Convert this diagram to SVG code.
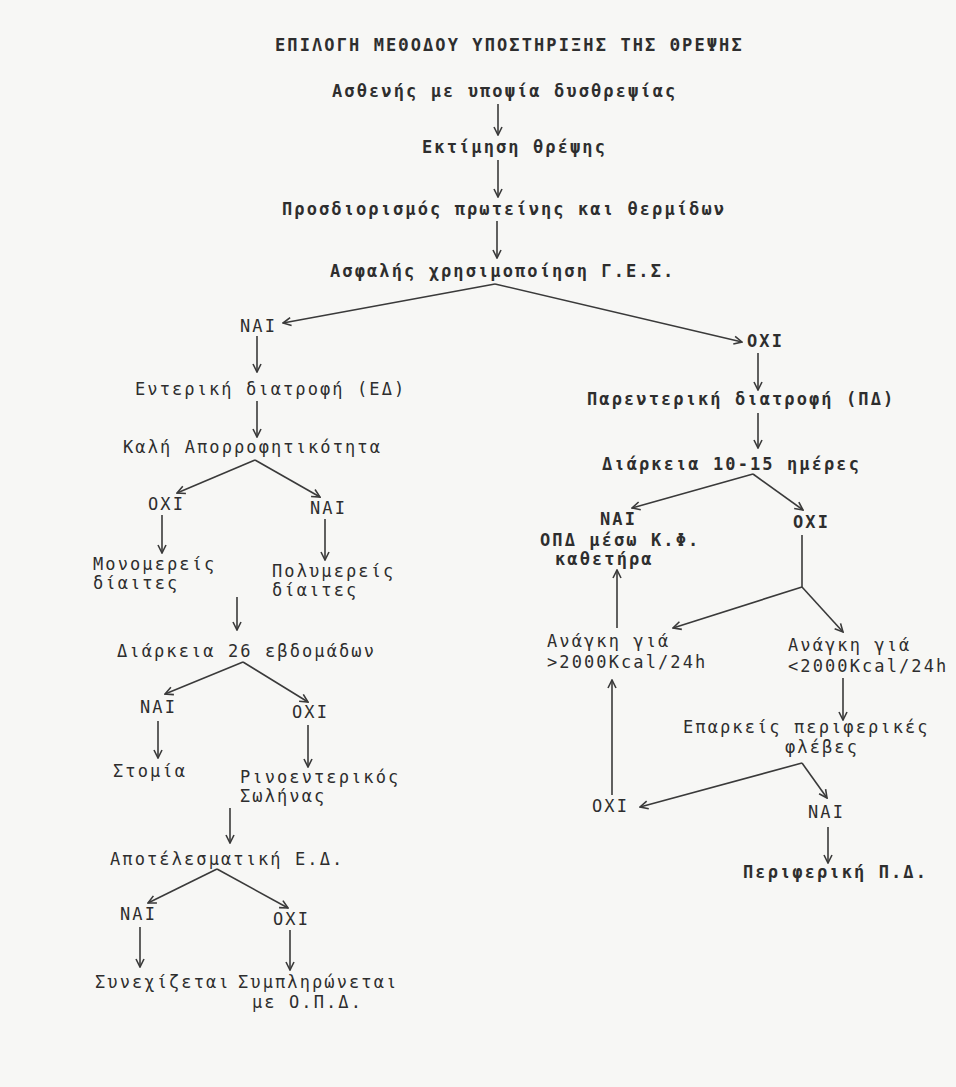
<svg xmlns="http://www.w3.org/2000/svg" width="956" height="1087" viewBox="0 0 956 1087">
<defs>
<style>
.t{font-family:"DejaVu Sans Mono","Liberation Mono",monospace;font-size:17px;letter-spacing:2.1px;fill:#2e2e2e}
.b{font-weight:bold}
.c{stroke:#3a3a3a;stroke-width:1.6;fill:none}
</style>
<marker id="ah" viewBox="0 0 10 10" refX="9" refY="5" markerWidth="10" markerHeight="10" markerUnits="userSpaceOnUse" orient="auto">
<path d="M1,1 L9,5 L1,9" fill="none" stroke="#3a3a3a" stroke-width="1.6"/>
</marker>
</defs>
<rect width="956" height="1087" fill="#f7f7f5"/>

<g id="title"><text class="t b" x="275" y="51">ΕΠΙΛΟΓΗ ΜΕΘΟΔΟΥ ΥΠΟΣΤΗΡΙΞΗΣ ΤΗΣ ΘΡΕΨΗΣ</text></g>
<g id="n-patient"><text class="t b" x="332" y="97">Ασθενής με υποψία δυσθρεψίας</text></g>
<g id="n-assess"><text class="t b" x="422" y="153">Εκτίμηση θρέψης</text></g>
<g id="n-protein"><text class="t b" x="282" y="215">Προσδιορισμός πρωτείνης και θερμίδων</text></g>
<g id="n-ges"><text class="t b" x="330" y="277">Ασφαλής χρησιμοποίηση Γ.Ε.Σ.</text></g>

<g id="n-yes1"><text class="t" x="240" y="332">ΝΑΙ</text></g>
<g id="n-ed"><text class="t" x="135" y="395">Εντερική διατροφή (ΕΔ)</text></g>
<g id="n-absorb"><text class="t" x="123" y="453">Καλή Απορροφητικότητα</text></g>
<g id="n-no2"><text class="t" x="148" y="510">ΟΧΙ</text></g>
<g id="n-yes2"><text class="t" x="310" y="514">ΝΑΙ</text></g>
<g id="n-mono"><text class="t" x="93" y="570">Μονομερείς</text><text class="t" x="93" y="589">δίαιτες</text></g>
<g id="n-poly"><text class="t" x="272" y="577">Πολυμερείς</text><text class="t" x="272" y="596">δίαιτες</text></g>
<g id="n-dur26"><text class="t" x="117" y="657">Διάρκεια 26 εβδομάδων</text></g>
<g id="n-yes3"><text class="t" x="140" y="713">ΝΑΙ</text></g>
<g id="n-no3"><text class="t" x="292" y="718">ΟΧΙ</text></g>
<g id="n-stoma"><text class="t" x="113" y="777">Στομία</text></g>
<g id="n-tube"><text class="t" x="240" y="783">Ρινοεντερικός</text><text class="t" x="240" y="802">Σωλήνας</text></g>
<g id="n-effective"><text class="t" x="110" y="865">Αποτέλεσματική Ε.Δ.</text></g>
<g id="n-yes4"><text class="t" x="120" y="920">ΝΑΙ</text></g>
<g id="n-no4"><text class="t" x="273" y="925">ΟΧΙ</text></g>
<g id="n-continue"><text class="t" x="95" y="988">Συνεχίζεται</text></g>
<g id="n-supplement"><text class="t" x="238" y="988">Συμπληρώνεται</text><text class="t" x="252" y="1008">με Ο.Π.Δ.</text></g>

<g id="n-no1"><text class="t b" x="747" y="347">ΟΧΙ</text></g>
<g id="n-pd"><text class="t b" x="587" y="405">Παρεντερική διατροφή (ΠΔ)</text></g>
<g id="n-dur1015"><text class="t b" x="602" y="470">Διάρκεια 10-15 ημέρες</text></g>
<g id="n-opd"><text class="t b" x="600" y="525">ΝΑΙ</text><text class="t b" x="540" y="546">ΟΠΔ μέσω Κ.Φ.</text><text class="t b" x="555" y="565">καθετήρα</text></g>
<g id="n-no5"><text class="t b" x="793" y="528">ΟΧΙ</text></g>
<g id="n-need-gt"><text class="t" x="547" y="647">Ανάγκη γιά</text><text class="t" x="547" y="668">&gt;2000Kcal/24h</text></g>
<g id="n-need-lt"><text class="t" x="788" y="651">Ανάγκη γιά</text><text class="t" x="788" y="672">&lt;2000Kcal/24h</text></g>
<g id="n-veins"><text class="t" x="683" y="733">Επαρκείς περιφερικές</text><text class="t" x="785" y="753">φλέβες</text></g>
<g id="n-no6"><text class="t" x="592" y="812">ΟΧΙ</text></g>
<g id="n-yes6"><text class="t" x="808" y="818">ΝΑΙ</text></g>
<g id="n-peripheral"><text class="t b" x="743" y="878">Περιφερική Π.Δ.</text></g>

<g id="connectors" class="c" marker-end="url(#ah)">
<line x1="498" y1="104" x2="498" y2="135"/>
<line x1="498" y1="160" x2="498" y2="197"/>
<line x1="497" y1="221" x2="497" y2="258"/>
<line x1="495" y1="284" x2="283" y2="323"/>
<line x1="495" y1="284" x2="742" y2="342"/>
<line x1="257" y1="336" x2="257" y2="372"/>
<line x1="257" y1="401" x2="257" y2="437"/>
<line x1="255" y1="460" x2="177" y2="493"/>
<line x1="255" y1="460" x2="320" y2="497"/>
<line x1="162" y1="515" x2="162" y2="553"/>
<line x1="325" y1="519" x2="325" y2="560"/>
<line x1="237" y1="597" x2="237" y2="630"/>
<line x1="243" y1="662" x2="165" y2="694"/>
<line x1="243" y1="662" x2="308" y2="702"/>
<line x1="158" y1="721" x2="158" y2="758"/>
<line x1="308" y1="725" x2="308" y2="767"/>
<line x1="230" y1="808" x2="230" y2="843"/>
<line x1="217" y1="869" x2="148" y2="903"/>
<line x1="217" y1="869" x2="288" y2="908"/>
<line x1="140" y1="927" x2="140" y2="967"/>
<line x1="290" y1="930" x2="290" y2="970"/>
<line x1="758" y1="353" x2="758" y2="390"/>
<line x1="758" y1="413" x2="758" y2="448"/>
<line x1="753" y1="474" x2="632" y2="508"/>
<line x1="753" y1="474" x2="803" y2="510"/>
<line x1="802" y1="535" x2="802" y2="587" marker-end="none"/>
<line x1="802" y1="587" x2="673" y2="628"/>
<line x1="802" y1="587" x2="843" y2="632"/>
<line x1="617" y1="628" x2="617" y2="570"/>
<line x1="843" y1="678" x2="843" y2="720"/>
<line x1="802" y1="763" x2="640" y2="807"/>
<line x1="802" y1="763" x2="827" y2="798"/>
<line x1="612" y1="795" x2="612" y2="680"/>
<line x1="828" y1="827" x2="828" y2="863"/>
</g>
</svg>
